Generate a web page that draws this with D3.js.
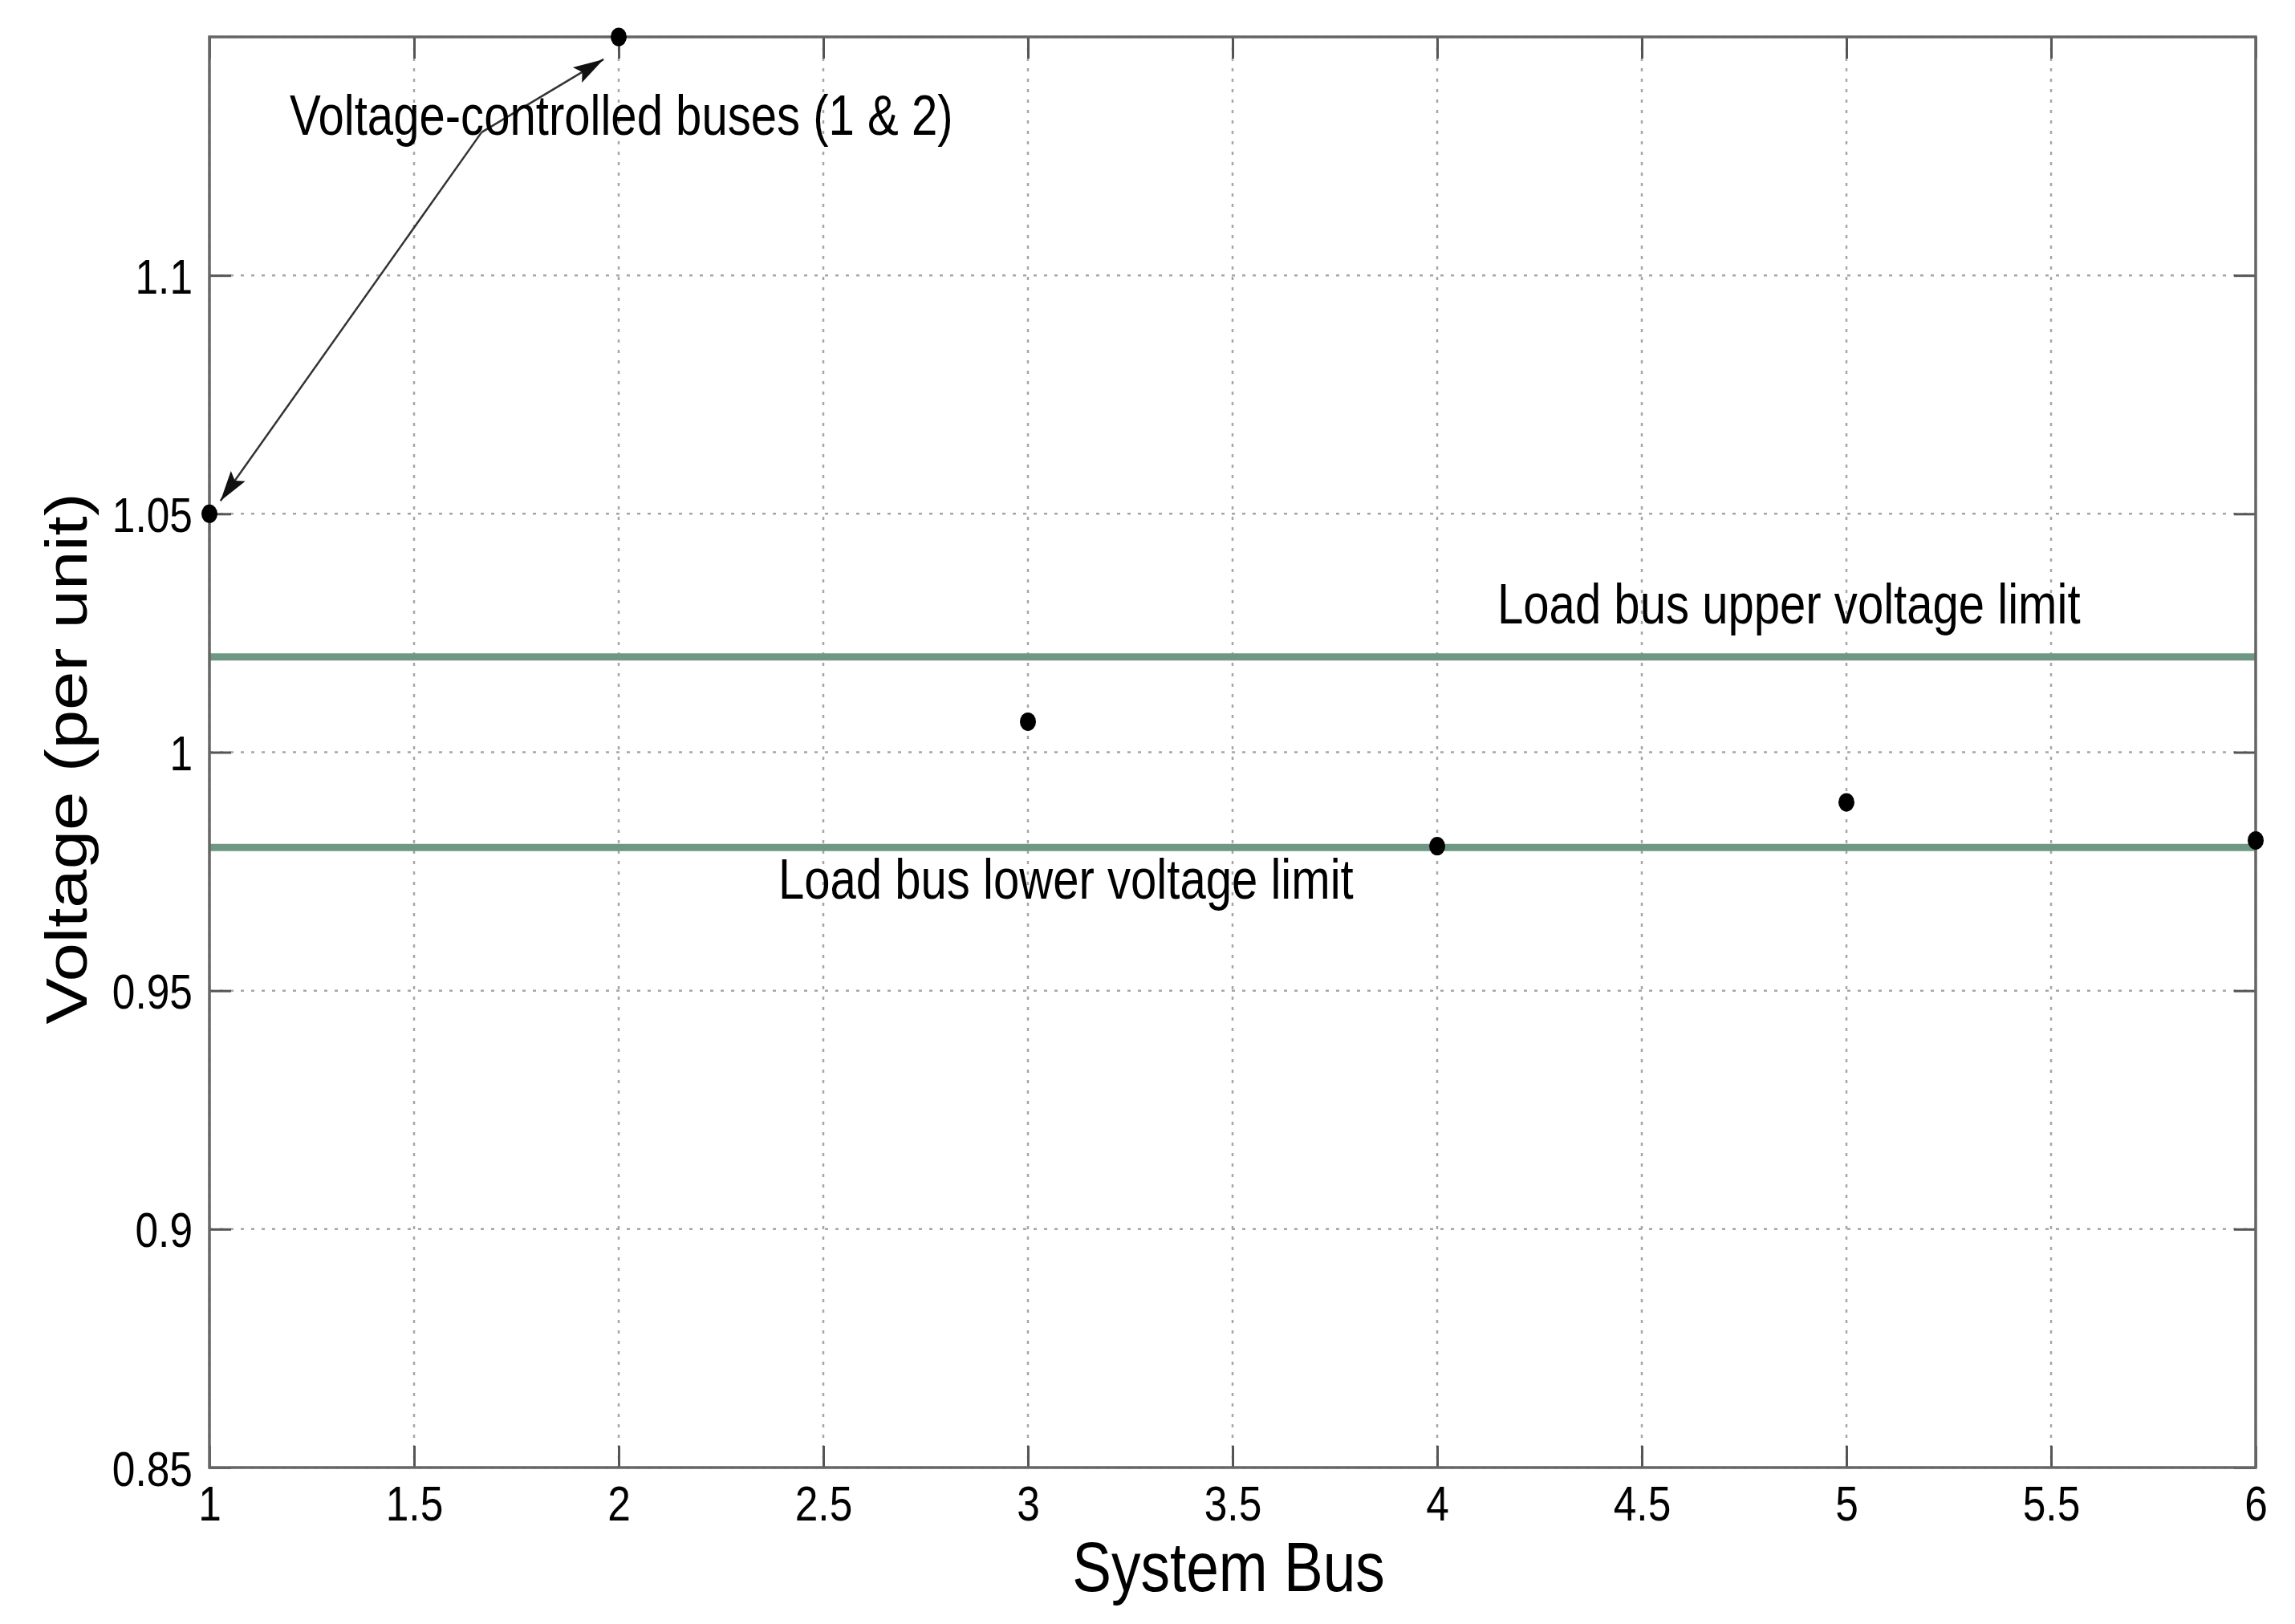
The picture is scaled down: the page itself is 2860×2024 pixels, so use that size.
<!DOCTYPE html>
<html>
<head>
<meta charset="utf-8">
<script src="https://cdn.jsdelivr.net/npm/d3@7"></script>
<style>
  html, body { margin: 0; padding: 0; background: #fff; }
  text { font-family: "Liberation Sans", Arial, sans-serif; fill: #000; }
</style>
</head>
<body>
<div id="chart"></div>
<script>
// ---- data ----
const buses = [1, 2, 3, 4, 5, 6];
const voltages = [1.05, 1.15, 1.0064, 0.9803, 0.9895, 0.9815];
const xTicks = [1, 1.5, 2, 2.5, 3, 3.5, 4, 4.5, 5, 5.5, 6];
const yTicks = [0.85, 0.9, 0.95, 1, 1.05, 1.1];
const yTickLabels = ["0.85", "0.9", "0.95", "1", "1.05", "1.1"];
const limitValues = [1.02, 0.98];
const limitLabels = ["Load bus upper voltage limit", "Load bus lower voltage limit"];
const arrowLabel = "Voltage-controlled buses (1 & 2)";

// ---- space setup ----
const W = 2860, H = 2024;
const margin = { top: 46, right: 49, bottom: 195, left: 261 };
const width = W - margin.left - margin.right;
const height = H - margin.top - margin.bottom;
const SX = 0.83; // the source image is squeezed horizontally

const x = d3.scaleLinear().domain([1, 6]).range([0, width]);
const y = d3.scaleLinear().domain([0.85, 1.15]).range([height, 0]);

const svg = d3.select("#chart").append("svg")
    .attr("width", W).attr("height", H)
    .style("display", "block");

svg.append("rect").attr("width", W).attr("height", H).attr("fill", "#fff");

const defs = svg.append("defs");
defs.append("marker")
    .attr("id", "head")
    .attr("viewBox", "-40 -12 42 24")
    .attr("refX", 0).attr("refY", 0)
    .attr("markerWidth", 42).attr("markerHeight", 24)
    .attr("markerUnits", "userSpaceOnUse")
    .attr("orient", "auto")
    .append("path")
    .attr("d", "M0,0L-38,-11L-31,0L-38,11Z")
    .attr("fill", "#111");

const g = svg.append("g").attr("transform", `translate(${margin.left},${margin.top})`);

// ---- grid ----
const grid = g.append("g")
    .attr("stroke", "#a6a6a6").attr("stroke-width", 2.5)
    .attr("stroke-dasharray", "4,9");

grid.selectAll("line.vx").data(xTicks).enter().append("line")
    .attr("x1", d => x(d)).attr("x2", d => x(d))
    .attr("y1", 0).attr("y2", height);

grid.selectAll("line.hy").data(yTicks.concat([1.15])).enter().append("line")
    .attr("x1", 0).attr("x2", width)
    .attr("y1", d => y(d)).attr("y2", d => y(d));

// ---- limit lines ----
g.selectAll("line.limit").data(limitValues).enter().append("line")
    .attr("class", "limit")
    .attr("x1", x(1)).attr("x2", x(6))
    .attr("y1", d => y(d)).attr("y2", d => y(d))
    .attr("stroke", "#6f9884").attr("stroke-width", 9);

// ---- axes (ticks point inward, on all four sides) ----
const TICK = 27;
function styleAxis(sel) {
    sel.select(".domain").remove();
    sel.selectAll(".tick line").attr("stroke", "#555").attr("stroke-width", 3);
}

const xAxis = g.append("g")
    .attr("transform", `translate(0,${height})`)
    .call(d3.axisBottom(x).tickValues(xTicks).tickSize(-TICK).tickPadding(0)
        .tickFormat(d3.format("")));
styleAxis(xAxis);
xAxis.selectAll(".tick text")
    .attr("y", 0).attr("dy", null)
    .attr("transform", `translate(0,66) scale(${SX},1)`)
    .style("font-size", "62px");

g.append("g")
    .call(d3.axisTop(x).tickValues(xTicks).tickSize(-TICK).tickFormat(""))
    .call(styleAxis);

const yAxis = g.append("g")
    .call(d3.axisLeft(y).tickValues(yTicks).tickSize(-TICK)
        .tickFormat((d, i) => yTickLabels[i]));
styleAxis(yAxis);
yAxis.selectAll(".tick text")
    .attr("x", 0).attr("dy", null)
    .attr("transform", `translate(-21,22) scale(${SX},1)`)
    .attr("text-anchor", "end")
    .style("font-size", "62px");

g.append("g")
    .attr("transform", `translate(${width},0)`)
    .call(d3.axisRight(y).tickValues(yTicks).tickSize(-TICK).tickFormat(""))
    .call(styleAxis);

// box
g.append("rect")
    .attr("width", width).attr("height", height)
    .attr("fill", "none").attr("stroke", "#666").attr("stroke-width", 3.5);

// ---- data points ----
g.selectAll("ellipse.pt").data(buses).enter().append("ellipse")
    .attr("class", "pt")
    .attr("cx", d => x(d))
    .attr("cy", (d, i) => y(voltages[i]))
    .attr("rx", 10).attr("ry", 11.5)
    .attr("fill", "#000");

// ---- annotations ----
const junction = [1.665, 1.130];
const tips = [[1.027, 1.0527], [1.963, 1.1453]];
g.selectAll("line.arrow").data(tips).enter().append("line")
    .attr("x1", x(junction[0])).attr("y1", y(junction[1]))
    .attr("x2", d => x(d[0])).attr("y2", d => y(d[1]))
    .attr("stroke", "#333").attr("stroke-width", 2.5)
    .attr("marker-end", "url(#head)");

const notes = [
    { text: arrowLabel, at: [1.196, 1.1295] },
    { text: limitLabels[0], at: [4.147, 1.027] },
    { text: limitLabels[1], at: [2.39, 0.9693] }
];
g.selectAll("text.note").data(notes).enter().append("text")
    .attr("class", "note")
    .attr("transform", d => `translate(${x(d.at[0])},${y(d.at[1])}) scale(${SX},1)`)
    .style("font-size", "70px")
    .text(d => d.text);

// ---- axis titles ----
svg.append("text")
    .attr("transform", `translate(${margin.left + width / 2 - 5},1983) scale(${SX},1)`)
    .attr("text-anchor", "middle")
    .style("font-size", "88px")
    .text("System Bus");

svg.append("text")
    .attr("transform", `translate(108,${margin.top + height / 2 + 8}) scale(${SX},1) rotate(-90)`)
    .attr("text-anchor", "middle")
    .style("font-size", "87px")
    .text("Voltage (per unit)");
</script>
</body>
</html>
